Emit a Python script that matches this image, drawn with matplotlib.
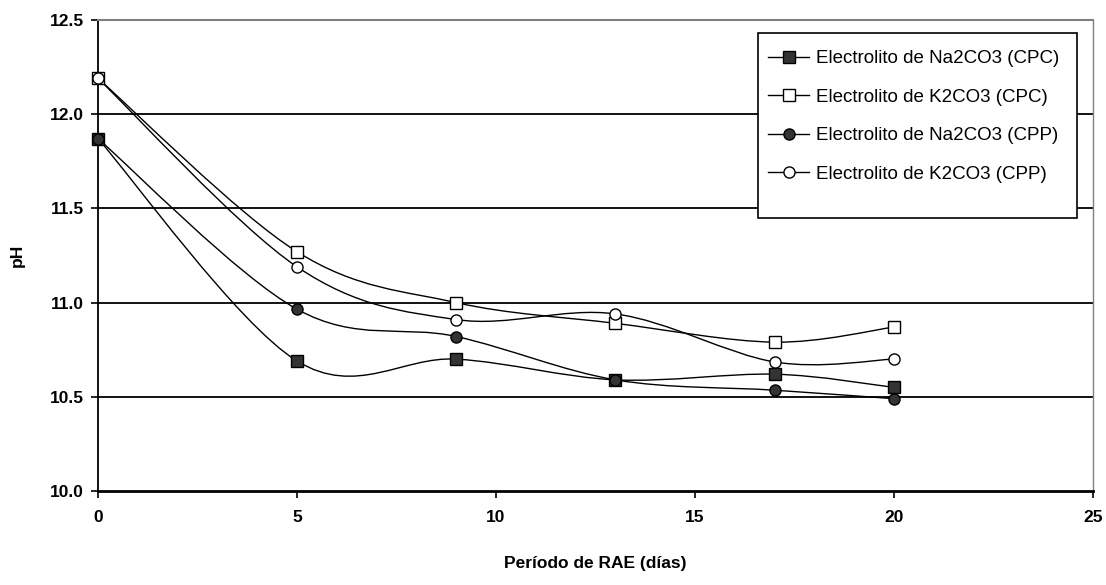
import numpy as np
import matplotlib
matplotlib.use("Agg")
import matplotlib.pyplot as plt
from matplotlib.path import Path
from matplotlib.patches import PathPatch, Rectangle
from matplotlib.lines import Line2D

plt.rcParams['font.family'] = ['Liberation Sans', 'DejaVu Sans']

# --- data
dias = [0, 5, 9, 13, 17, 20]
na_cpc = [11.87, 10.69, 10.70, 10.59, 10.62, 10.55]
k_cpc = [12.19, 11.27, 11.00, 10.89, 10.79, 10.87]
na_cpp = [11.87, 10.965, 10.82, 10.59, 10.535, 10.49]
k_cpp = [12.19, 11.19, 10.91, 10.94, 10.685, 10.70]

labels = ["Electrolito de Na2CO3 (CPC)", "Electrolito de K2CO3 (CPC)",
          "Electrolito de Na2CO3 (CPP)", "Electrolito de K2CO3 (CPP)"]
series = [na_cpc, k_cpc, na_cpp, k_cpp]
markers = ['s', 's', 'o', 'o']
faces = ['#333333', 'white', '#333333', 'white']

x_ticks = [0, 5, 10, 15, 20, 25]
y_ticks = [10.0, 10.5, 11.0, 11.5, 12.0, 12.5]


def smooth_path(x, y):
    """Excel-style smoothed line as a cubic Bezier path through the points."""
    p = np.column_stack([x, y]).astype(float)
    n = len(p)
    verts = [p[0]]
    codes = [Path.MOVETO]
    for i in range(n - 1):
        p_prev = p[i - 1] if i > 0 else p[i]
        p_next2 = p[i + 2] if i + 2 < n else p[i + 1]
        c1 = p[i] + (p[i + 1] - p_prev) / 6.0
        c2 = p[i + 1] - (p_next2 - p[i]) / 6.0
        verts += [c1, c2, p[i + 1]]
        codes += [Path.CURVE4] * 3
    return Path(verts, codes)


fig = plt.figure(figsize=(11.06, 5.85), dpi=100)
ax = fig.add_axes([0.0886, 0.1607, 0.8996, 0.8051])

for yv in y_ticks[1:-1]:
    ax.axhline(yv, color='black', lw=1.3, zorder=1)

handles = []
for ys, m, fc, lab in zip(series, markers, faces, labels):
    ax.add_patch(PathPatch(smooth_path(dias, ys), fill=False,
                           edgecolor='black', lw=1.0, zorder=2))
    ax.plot(dias, ys, linestyle='none', marker=m, ms=8, mfc=fc,
            mec='black', mew=1.0, zorder=3, clip_on=False)
    handles.append(Line2D([], [], color='black', lw=1.0, marker=m, ms=8,
                          mfc=fc, mec='black', mew=1.0))

ax.set_xlim(0, 25)
ax.set_ylim(10.0, 12.5)
ax.set_xticks(x_ticks)
ax.set_yticks(y_ticks)
ax.set_yticklabels([f"{v:.1f}" for v in y_ticks])
ax.tick_params(direction='out', length=5, width=1.2, color='black',
               labelsize=12.5, pad=5)
for lbl in ax.get_xticklabels() + ax.get_yticklabels():
    lbl.set_fontweight('bold')
ax.tick_params(axis='x', pad=9)

ax.spines['left'].set_linewidth(1.3)
ax.spines['bottom'].set_linewidth(2.0)
ax.spines['top'].set_color('#808080')
ax.spines['right'].set_color('#808080')
ax.spines['top'].set_linewidth(1.5)
ax.spines['right'].set_linewidth(1.0)

ax.set_xlabel("Período de RAE (días)", fontsize=12.5, fontweight='bold',
              labelpad=22)
ax.set_ylabel("pH", fontsize=12.5, fontweight='bold', labelpad=18)

# legend box (drawn separately: taller padding at the bottom, as in Excel)
ax.add_patch(Rectangle((0.6633, 0.5796), 0.3206, 0.3928,
                       transform=ax.transAxes, facecolor='white',
                       edgecolor='black', lw=1.2, zorder=4))
leg = ax.legend(handles, labels, loc='upper left',
                bbox_to_anchor=(0.6734, 0.9363), fontsize=13.5,
                frameon=False, handlelength=2.2, handletextpad=0.35,
                labelspacing=1.14, borderpad=0, borderaxespad=0)
leg.set_zorder(5)

fig.savefig("out.png", dpi=100)
